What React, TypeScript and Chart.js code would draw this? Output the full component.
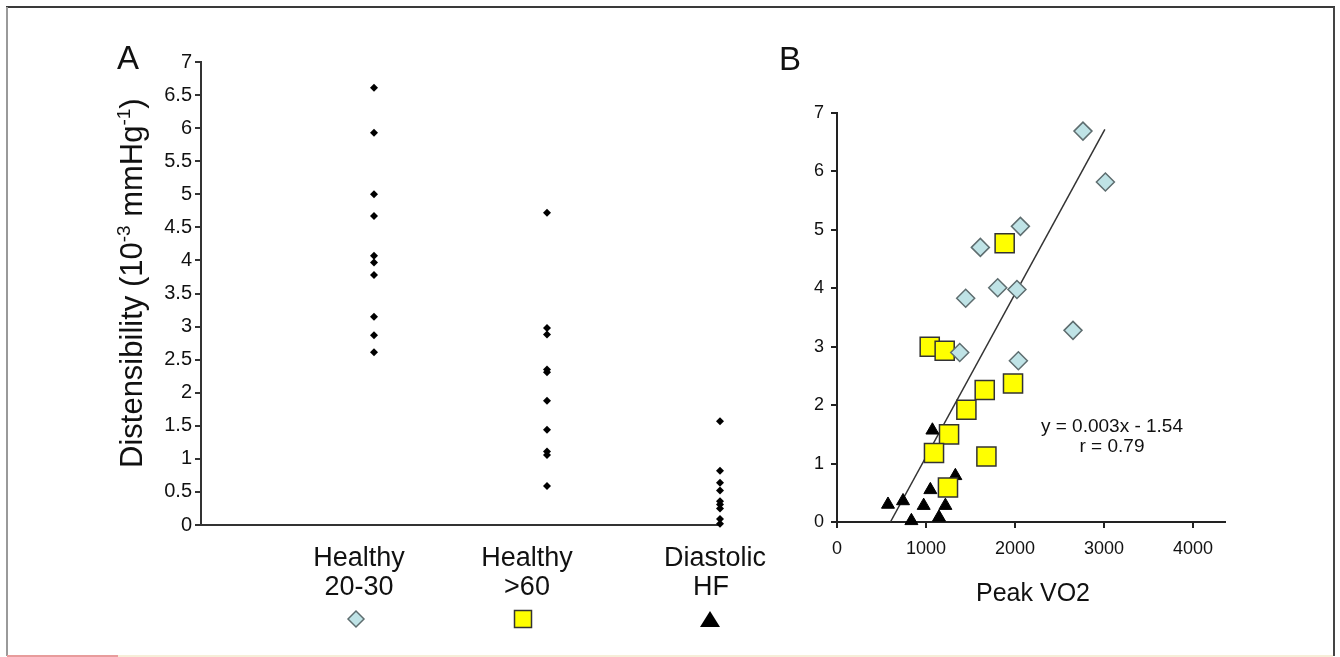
import React, { useEffect, useRef } from "react";
import { Chart, registerables } from "chart.js";

Chart.register(...registerables);

const FONT = "'Liberation Sans', Arial, Helvetica, sans-serif";

// ---------- Panel A data ----------
const groupLine1 = ["Healthy", "Healthy", "Diastolic"];
const groupLine2 = ["20-30", ">60", "HF"];
const groupX = [1, 2, 3];
const youngDist = [6.61, 5.93, 5.0, 4.67, 4.07, 3.97, 3.78, 3.15, 2.87, 2.61];
const olderDist = [4.72, 2.98, 2.88, 2.35, 2.31, 1.88, 1.44, 1.11, 1.06, 0.59];
const hfDist = [1.57, 0.82, 0.64, 0.52, 0.36, 0.31, 0.25, 0.09, 0.02];
const distTicks = [0, 0.5, 1, 1.5, 2, 2.5, 3, 3.5, 4, 4.5, 5, 5.5, 6, 6.5, 7];

// ---------- Panel B data ----------
const youngVO2 = [2764, 3016, 2061, 1611, 1806, 2022, 1446, 2652, 1379, 2038];
const youngDistB = [6.69, 5.82, 5.06, 4.7, 4.01, 3.98, 3.83, 3.28, 2.9, 2.76];
const olderVO2 = [1884, 1042, 1210, 1978, 1660, 1454, 1259, 1090, 1679, 1247];
const olderDistB = [4.77, 3.0, 2.93, 2.37, 2.26, 1.92, 1.5, 1.18, 1.12, 0.59];
const hfVO2 = [1072, 573, 742, 836, 974, 1049, 1218, 1146, 1330];
const hfDistB = [1.57, 0.3, 0.36, 0.02, 0.28, 0.55, 0.28, 0.08, 0.79];
const trendVO2 = [600, 3010];
const trendDist = [0.0, 6.72];
const vo2Ticks = [0, 1000, 2000, 3000, 4000];
const distTicksB = [0, 1, 2, 3, 4, 5, 6, 7];
const equationLines = ["y = 0.003x - 1.54", "r = 0.79"];

const YOUNG_FILL = "#BFE3E6";
const YOUNG_EDGE = "#5E6D6F";
const OLDER_FILL = "#FFFF00";
const OLDER_EDGE = "#333333";
const HF_FILL = "#000000";

function drawDiamond(ctx: CanvasRenderingContext2D, x: number, y: number, r: number) {
  ctx.beginPath();
  ctx.moveTo(x - r, y);
  ctx.lineTo(x, y - r);
  ctx.lineTo(x + r, y);
  ctx.lineTo(x, y + r);
  ctx.closePath();
  ctx.fillStyle = YOUNG_FILL;
  ctx.fill();
  ctx.lineWidth = 1.5;
  ctx.strokeStyle = YOUNG_EDGE;
  ctx.stroke();
}
function drawSquare(ctx: CanvasRenderingContext2D, x: number, y: number, s: number) {
  ctx.beginPath();
  ctx.rect(x - s / 2, y - s / 2, s, s);
  ctx.fillStyle = OLDER_FILL;
  ctx.fill();
  ctx.lineWidth = 1.5;
  ctx.strokeStyle = OLDER_EDGE;
  ctx.stroke();
}
function drawTriangle(ctx: CanvasRenderingContext2D, x: number, y: number, w: number, h: number) {
  ctx.beginPath();
  ctx.moveTo(x, y - h / 2);
  ctx.lineTo(x + w / 2, y + h / 2);
  ctx.lineTo(x - w / 2, y + h / 2);
  ctx.closePath();
  ctx.fillStyle = HF_FILL;
  ctx.fill();
}

const panelAPlugin = {
  id: "panelA",
  afterDraw(chart: any) {
    const ctx: CanvasRenderingContext2D = chart.ctx;
    const xs = chart.scales.x;
    ctx.save();
    ctx.fillStyle = "#111";
    // panel letter
    ctx.font = `33px ${FONT}`;
    ctx.textAlign = "left";
    ctx.textBaseline = "alphabetic";
    ctx.fillText("A", 117, 69);

    // y title with superscripts
    ctx.save();
    ctx.translate(142, 468);
    ctx.rotate(-Math.PI / 2);
    const big = `31px ${FONT}`;
    const small = `19px ${FONT}`;
    const parts: [string, boolean][] = [
      ["Distensibility (10", false],
      ["-3", true],
      [" mmHg", false],
      ["-1", true],
      [")", false],
    ];
    let px = 0;
    for (const [t, sup] of parts) {
      ctx.font = sup ? small : big;
      ctx.fillText(t, px, sup ? -12 : 0);
      px += ctx.measureText(t).width;
    }
    ctx.restore();

    // category labels + legend markers
    const offs = [-15, -20, -5];
    const markerOffs = [-18, -24, -10];
    ctx.font = `27px ${FONT}`;
    ctx.textAlign = "center";
    for (let i = 0; i < groupX.length; i++) {
      const cx = xs.getPixelForValue(groupX[i]) + offs[i];
      ctx.fillStyle = "#111";
      ctx.fillText(groupLine1[i], cx, 566);
      ctx.fillText(groupLine2[i], cx + (i === 2 ? -4 : 0), 595);
      const mx = xs.getPixelForValue(groupX[i]) + markerOffs[i];
      if (i === 0) drawDiamond(ctx, mx, 619, 8);
      else if (i === 1) drawSquare(ctx, mx, 619, 17);
      else drawTriangle(ctx, mx, 619, 20, 16);
    }
    ctx.restore();
  },
};

const panelBPlugin = {
  id: "panelB",
  afterDraw(chart: any) {
    const ctx: CanvasRenderingContext2D = chart.ctx;
    const xs = chart.scales.x;
    const area = chart.chartArea;
    ctx.save();
    ctx.fillStyle = "#111";
    ctx.font = `33px ${FONT}`;
    ctx.textAlign = "left";
    ctx.textBaseline = "alphabetic";
    ctx.fillText("B", 9, 70);

    ctx.font = `25px ${FONT}`;
    ctx.textAlign = "center";
    ctx.fillText("Peak VO2", (area.left + area.right) / 2 + 2, 601);

    ctx.font = `19px ${FONT}`;
    const ex = xs.getPixelForValue(3000) + 8;
    ctx.fillText(equationLines[0], ex, 432);
    ctx.fillText(equationLines[1], ex, 452);
    ctx.restore();
  },
};

function toXY(xv: number[], yv: number[]) {
  return xv.map((x, i) => ({ x, y: yv[i] }));
}

export default function App() {
  const refA = useRef<HTMLCanvasElement>(null);
  const refB = useRef<HTMLCanvasElement>(null);

  useEffect(() => {
    const tickFont = { family: FONT, size: 20 };
    const groups = [youngDist, olderDist, hfDist];
    const chartA = new Chart(refA.current!, {
      type: "scatter",
      data: {
        datasets: groups.map((vals, gi) => ({
          label: `${groupLine1[gi]} ${groupLine2[gi]}`,
          data: vals.map((v) => ({ x: groupX[gi], y: v })),
          pointStyle: "rectRot",
          pointRadius: 4,
          pointBackgroundColor: "#000",
          pointBorderColor: "#000",
          pointBorderWidth: 0,
          clip: false,
        })),
      },
      options: {
        animation: false,
        responsive: false,
        devicePixelRatio: 1,
        events: [],
        layout: { padding: { left: 137, right: 50, top: 62, bottom: 130 } },
        plugins: { legend: { display: false }, tooltip: { enabled: false } },
        scales: {
          x: {
            type: "linear",
            min: 0,
            max: 3,
            ticks: { display: false },
            grid: { display: false },
            border: { display: true, color: "#333", width: 2 },
            afterFit: (s: any) => {
              s.height = 2;
            },
          },
          y: {
            type: "linear",
            min: 0,
            max: 7,
            afterBuildTicks: (s: any) => {
              s.ticks = distTicks.map((v) => ({ value: v }));
            },
            ticks: {
              font: tickFont,
              color: "#111",
              padding: 3,
              callback: (v: any) => String(v),
            },
            grid: { drawOnChartArea: false, drawTicks: true, tickLength: 6, color: "#333", lineWidth: 2 },
            border: { display: true, color: "#333", width: 2 },
            afterFit: (s: any) => {
              s.width = 64;
            },
          },
        },
      },
      plugins: [panelAPlugin],
    });

    const chartB = new Chart(refB.current!, {
      type: "scatter",
      data: {
        datasets: [
          {
            type: "line",
            label: "trend",
            data: toXY(trendVO2, trendDist),
            borderColor: "#333",
            borderWidth: 1.5,
            pointRadius: 0,
            fill: false,
            order: 4,
          } as any,
          {
            label: "Diastolic HF",
            data: toXY(hfVO2, hfDistB),
            pointStyle: "triangle",
            pointRadius: 7.5,
            pointBackgroundColor: HF_FILL,
            pointBorderColor: HF_FILL,
            pointBorderWidth: 1,
            clip: false,
            order: 3,
          },
          {
            label: "Healthy >60",
            data: toXY(olderVO2, olderDistB),
            pointStyle: "rect",
            pointRadius: 13.5,
            pointBackgroundColor: OLDER_FILL,
            pointBorderColor: OLDER_EDGE,
            pointBorderWidth: 1.5,
            clip: false,
            order: 2,
          },
          {
            label: "Healthy 20-30",
            data: toXY(youngVO2, youngDistB),
            pointStyle: "rectRot",
            pointRadius: 9,
            pointBackgroundColor: YOUNG_FILL,
            pointBorderColor: YOUNG_EDGE,
            pointBorderWidth: 1.5,
            clip: false,
            order: 1,
          },
        ],
      },
      options: {
        animation: false,
        responsive: false,
        devicePixelRatio: 1,
        events: [],
        layout: { padding: { left: 17, right: 115, top: 113, bottom: 95 } },
        plugins: { legend: { display: false }, tooltip: { enabled: false } },
        scales: {
          x: {
            type: "linear",
            min: 0,
            max: 4360,
            afterBuildTicks: (s: any) => {
              s.ticks = vo2Ticks.map((v) => ({ value: v }));
            },
            ticks: {
              font: { family: FONT, size: 18 },
              color: "#111",
              padding: 10,
              maxRotation: 0,
              callback: (v: any) => String(v),
            },
            grid: { drawOnChartArea: false, drawTicks: true, tickLength: 6, color: "#222", lineWidth: 2 },
            border: { display: true, color: "#222", width: 2 },
            afterFit: (s: any) => {
              s.height = 40;
            },
          },
          y: {
            type: "linear",
            min: 0,
            max: 7,
            afterBuildTicks: (s: any) => {
              s.ticks = distTicksB.map((v) => ({ value: v }));
            },
            ticks: {
              font: { family: FONT, size: 18 },
              color: "#111",
              padding: 7,
              callback: (v: any) => String(v),
            },
            grid: { drawOnChartArea: false, drawTicks: true, tickLength: 6, color: "#222", lineWidth: 2 },
            border: { display: true, color: "#222", width: 2 },
            afterFit: (s: any) => {
              s.width = 50;
            },
          },
        },
      },
      plugins: [panelBPlugin],
    });

    return () => {
      chartA.destroy();
      chartB.destroy();
    };
  }, []);

  const line = (style: React.CSSProperties) => (
    <div style={{ position: "absolute", ...style }} />
  );

  return (
    <div
      style={{
        position: "fixed",
        left: 0,
        top: 0,
        width: 1340,
        height: 657,
        background: "#fff",
        overflow: "hidden",
      }}
    >
      <canvas
        ref={refA}
        width={770}
        height={657}
        style={{ position: "absolute", left: 0, top: 0, width: 770, height: 657 }}
      />
      <canvas
        ref={refB}
        width={570}
        height={657}
        style={{ position: "absolute", left: 770, top: 0, width: 570, height: 657 }}
      />
      {line({ left: 6, top: 6, width: 1329, height: 2, background: "#3a3a3a" })}
      {line({ left: 6, top: 7, width: 2, height: 649, background: "#9a9a9a" })}
      {line({ left: 1333, top: 7, width: 2, height: 649, background: "#444" })}
      {line({ left: 7, top: 655, width: 111, height: 2, background: "#E89C9C" })}
      {line({ left: 118, top: 655, width: 1215, height: 2, background: "#F6EED8" })}
    </div>
  );
}
